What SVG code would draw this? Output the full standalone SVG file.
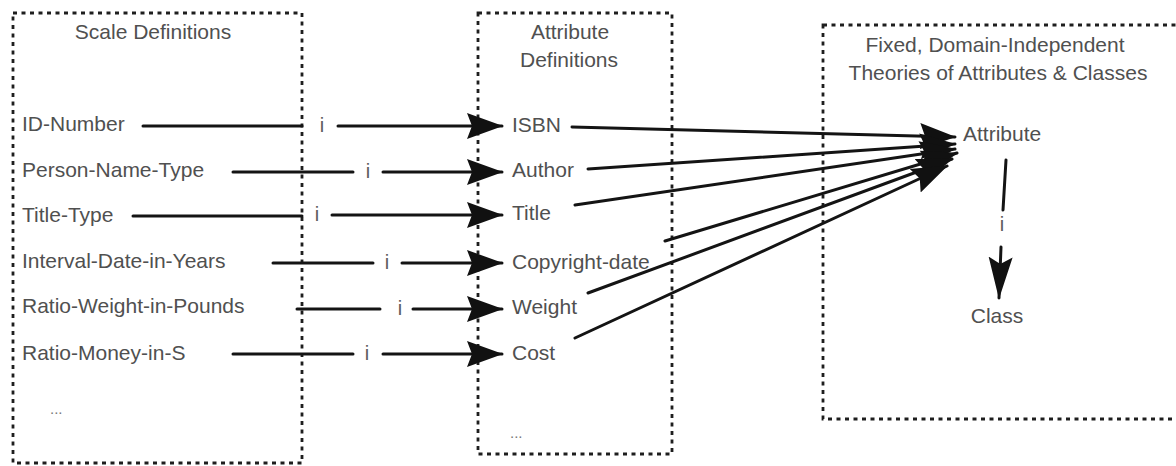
<svg xmlns="http://www.w3.org/2000/svg" width="1176" height="466" viewBox="0 0 1176 466">
  <style>
    .box { fill: none; stroke: #1e1e1e; stroke-width: 2.8; stroke-dasharray: 4 4.5; }
    .lbl { font-family: "Liberation Sans", Arial, sans-serif; font-size: 21px; fill: #505050; }
    .mid { text-anchor: middle; }
    .inst { font-family: "Liberation Sans", Arial, sans-serif; font-size: 20px; fill: #5c5c5c; text-anchor: middle; }
    .dots { font-family: "Liberation Sans", Arial, sans-serif; font-size: 15px; fill: #777; }
    .wire { fill: none; stroke: #141414; stroke-width: 3; stroke-linecap: round; }
    .arrow { marker-end: url(#head); }
    .down { marker-end: url(#headv); }
  </style>
  <defs>
    <marker id="head" markerUnits="userSpaceOnUse" viewBox="0 0 36 30" refX="35" refY="15" markerWidth="36" markerHeight="30" orient="auto">
      <path d="M0,2 L36,15 L0,28 L5,15 Z" fill="#111"/>
    </marker>
    <marker id="headv" markerUnits="userSpaceOnUse" viewBox="0 0 42 26" refX="41" refY="13" markerWidth="42" markerHeight="26" orient="auto">
      <path d="M0,1 L42,13 L0,25 L7,13 Z" fill="#111"/>
    </marker>
  </defs>

  <rect width="1176" height="466" fill="#fff"/>

  <!-- Scale Definitions -->
  <g id="scale-definitions">
    <rect class="box" x="13" y="13" width="289" height="450"/>
    <text class="lbl mid" x="153" y="39">Scale Definitions</text>
    <text class="lbl" x="22" y="131">ID-Number</text>
    <text class="lbl" x="22" y="177">Person-Name-Type</text>
    <text class="lbl" x="22" y="222">Title-Type</text>
    <text class="lbl" x="22" y="268">Interval-Date-in-Years</text>
    <text class="lbl" x="22" y="313">Ratio-Weight-in-Pounds</text>
    <text class="lbl" x="22" y="360">Ratio-Money-in-S</text>
    <text class="dots" x="50" y="414">...</text>
  </g>

  <!-- Attribute Definitions -->
  <g id="attribute-definitions">
    <rect class="box" x="478" y="13" width="194" height="441"/>
    <text class="lbl mid" x="570" y="39">Attribute</text>
    <text class="lbl mid" x="569" y="67">Definitions</text>
    <text class="lbl" x="512" y="132">ISBN</text>
    <text class="lbl" x="512" y="177">Author</text>
    <text class="lbl" x="512" y="220">Title</text>
    <text class="lbl" x="512" y="269">Copyright-date</text>
    <text class="lbl" x="512" y="314">Weight</text>
    <text class="lbl" x="512" y="360">Cost</text>
    <text class="dots" x="510" y="438">...</text>
  </g>

  <!-- Fixed, domain-independent theories -->
  <g id="fixed-theories">
    <rect class="box" x="823" y="25" width="360" height="394"/>
    <text class="lbl mid" x="995" y="52">Fixed, Domain-Independent</text>
    <text class="lbl mid" x="998" y="80">Theories of Attributes &amp; Classes</text>
  </g>
  <g id="attribute-node">
    <text class="lbl" x="963" y="141">Attribute</text>
  </g>
  <g id="class-node">
    <text class="lbl mid" x="997" y="323">Class</text>
  </g>

  <g id="connectors">
    <!-- scale -> attribute instance links -->
    <line class="wire" x1="143" y1="126" x2="302" y2="126"/>
    <text class="inst" x="322" y="132">i</text>
    <line class="wire arrow" x1="338" y1="126" x2="502" y2="126"/>

    <line class="wire" x1="233" y1="172" x2="353" y2="172"/>
    <text class="inst" x="368" y="178">i</text>
    <line class="wire arrow" x1="383" y1="172" x2="502" y2="172"/>

    <line class="wire" x1="133" y1="216" x2="302" y2="216"/>
    <text class="inst" x="317" y="221">i</text>
    <line class="wire arrow" x1="332" y1="215" x2="502" y2="215"/>

    <line class="wire" x1="273" y1="263" x2="373" y2="263"/>
    <text class="inst" x="387" y="269">i</text>
    <line class="wire arrow" x1="402" y1="263" x2="502" y2="263"/>

    <line class="wire" x1="297" y1="309" x2="380" y2="309"/>
    <text class="inst" x="400" y="315">i</text>
    <line class="wire arrow" x1="413" y1="309" x2="502" y2="309"/>

    <line class="wire" x1="233" y1="354" x2="353" y2="354"/>
    <text class="inst" x="367" y="360">i</text>
    <line class="wire arrow" x1="383" y1="354" x2="502" y2="354"/>

    <!-- attributes -> Attribute -->
    <line class="wire arrow" x1="572" y1="127" x2="955" y2="137"/>
    <line class="wire arrow" x1="588" y1="169" x2="955" y2="144"/>
    <line class="wire arrow" x1="575" y1="205" x2="955" y2="149"/>
    <line class="wire arrow" x1="665" y1="241" x2="957" y2="153"/>
    <line class="wire arrow" x1="588" y1="293" x2="952" y2="159"/>
    <line class="wire arrow" x1="575" y1="338" x2="947" y2="166"/>

    <!-- Attribute -> Class -->
    <line class="wire" x1="1006" y1="160" x2="1003" y2="210"/>
    <text class="inst" x="1002" y="231">i</text>
    <line class="wire down" x1="1001" y1="247" x2="999" y2="298"/>
  </g>
</svg>
